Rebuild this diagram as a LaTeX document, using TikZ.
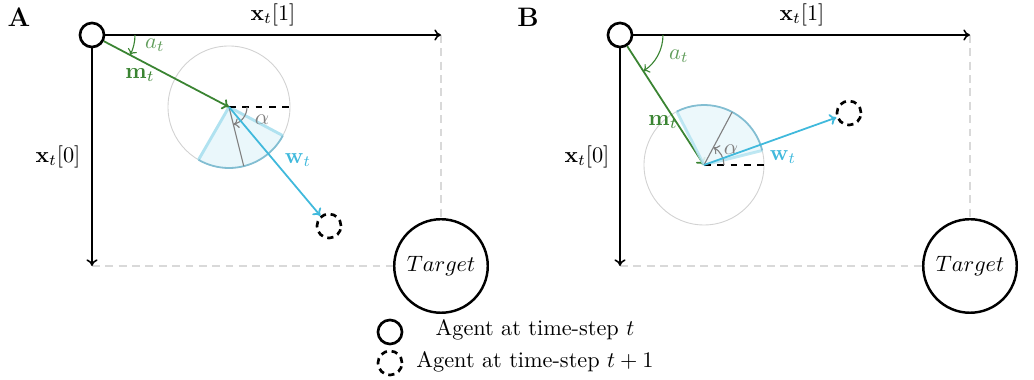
\documentclass[tikz,border=0pt]{standalone}
\usetikzlibrary{arrows.meta}
\definecolor{mgreen}{RGB}{58,132,50}
\definecolor{wcyan}{RGB}{64,185,220}
\definecolor{secfill}{RGB}{234,247,251}
\definecolor{secedge}{RGB}{176,226,240}
\definecolor{secarc}{RGB}{130,190,210}
\tikzset{
  agent/.style={circle,draw,line width=1.2pt,minimum size=10.8pt,inner sep=0pt},
  nextagent/.style={circle,draw,line width=1.2pt,minimum size=10.8pt,inner sep=0pt,dash pattern=on 2.8pt off 2.1pt},
  target/.style={circle,draw,line width=1.1pt,minimum size=42pt,inner sep=0pt},
  axis/.style={line width=0.7pt,-{To[length=3pt,width=5pt]}},
  guide/.style={gray!30,line width=0.7pt,dash pattern=on 3.5pt off 2.5pt},
  mvec/.style={mgreen,line width=0.8pt,-{To[length=3pt,width=5pt]}},
  wvec/.style={wcyan,line width=0.8pt,-{To[length=3pt,width=5pt]}},
  angarc/.style={line width=0.5pt,-{To[length=2.5pt,width=4.5pt]}},
  refline/.style={black,line width=0.6pt,dashed},
  cone/.style={gray!35,line width=0.4pt},
  lbl/.style={inner sep=1pt}
}
\begin{document}
\begin{tikzpicture}[x=0.449pt,y=0.449pt]
\useasboundingbox (0,0) rectangle (1034,-380);

% ---------------- Panel A ----------------
\node[lbl,font=\large\bfseries] (labA) at (19,-17) {A};
\node[agent] (A0) at (92,-35) {};
\coordinate (A1x) at (441,-35);
\coordinate (A0x) at (92,-266);
\node[target] (TA) at (441,-266) {$Target$};
\draw[guide] (A1x) -- (TA);
\draw[guide] (A0x) -- (TA);
\draw[axis] (A0) -- (A1x);
\draw[axis] (A0) -- (A0x);
\node[lbl] (xA1) at (273,-15) {$\mathbf{x}_t[1]$};
\node[lbl] (xA0) at (58,-157) {$\mathbf{x}_t[0]$};

\coordinate (cA) at (229,-107);
\draw[cone] (cA) circle (61);
\fill[secfill] (cA) -- ++(-120:61) arc (-120:-28:61) -- cycle;
\draw[secedge,line width=1.3pt] (cA) -- ++(-120:61);
\draw[secedge,line width=1.3pt] (cA) -- ++(-28:61);
\draw[secarc,line width=0.8pt] (cA) ++(-120:61) arc (-120:-28:61);
\draw[refline] (cA) -- ++(61,0);
\draw[gray,line width=0.5pt] (cA) -- ++(-76:61);
\draw[angarc,gray] (cA) ++(0:18) arc (0:-76:18);
\node[lbl,text=gray] (alA) at (262,-120) {$\alpha$};

\draw[mvec] (A0) -- (cA);
\draw[angarc,mgreen] (A0.center) ++(0:43) arc (0:-27.7:43);
\node[lbl,text=mgreen!80] (atA) at (155,-45) {$a_t$};
\node[lbl,text=mgreen] (mA) at (140,-75) {$\mathbf{m}_t$};

\node[nextagent] (A1) at (329,-226) {};
\draw[wvec] (cA) -- (A1);
\node[lbl,text=wcyan] (wA) at (298,-160) {$\mathbf{w}_t$};

% ---------------- Panel B ----------------
\node[lbl,font=\large\bfseries] (labB) at (528,-17) {B};
\node[agent] (B0) at (620,-35) {};
\coordinate (B1x) at (970,-35);
\coordinate (B0x) at (620,-266);
\node[target] (TB) at (970,-266) {$Target$};
\draw[guide] (B1x) -- (TB);
\draw[guide] (B0x) -- (TB);
\draw[axis] (B0) -- (B1x);
\draw[axis] (B0) -- (B0x);
\node[lbl] (xB1) at (802,-15) {$\mathbf{x}_t[1]$};
\node[lbl] (xB0) at (587,-157) {$\mathbf{x}_t[0]$};

\coordinate (cB) at (704,-165);
\draw[cone] (cB) circle (60);
\draw[mvec] (B0) -- (cB);
\node[lbl,text=mgreen] (mB) at (663,-122) {$\mathbf{m}_t$};
\fill[secfill,opacity=0.9] (cB) -- ++(14:60) arc (14:117:60) -- cycle;
\draw[secedge,line width=1.3pt,opacity=0.8] (cB) -- ++(117:60);
\draw[secedge,line width=1.3pt,opacity=0.8] (cB) -- ++(14:60);
\draw[secarc,line width=0.8pt] (cB) ++(14:60) arc (14:117:60);
\draw[refline] (cB) -- ++(60,0);
\draw[gray,line width=0.5pt] (cB) -- ++(62:60);
\draw[angarc,gray] (cB) ++(0:20) arc (0:62:20);
\node[lbl,text=gray] (alB) at (731,-150) {$\alpha$};

\draw[angarc,mgreen] (B0.center) ++(0:43) arc (0:-57.1:43);
\node[lbl,text=mgreen!80] (atB) at (679,-56) {$a_t$};

\node[nextagent] (B1) at (849,-113) {};
\draw[wvec] (cB) -- (B1);
\node[lbl,text=wcyan] (wB) at (783,-157) {$\mathbf{w}_t$};

% ---------------- Legend ----------------
\node[agent] (L0) at (390,-332) {};
\node[nextagent] (L1) at (390,-363) {};
\node[lbl] (L0t) at (535,-330) {Agent at time-step $t$};
\node[lbl] (L1t) at (535,-362) {Agent at time-step $t+1$};
\end{tikzpicture}
\end{document}
